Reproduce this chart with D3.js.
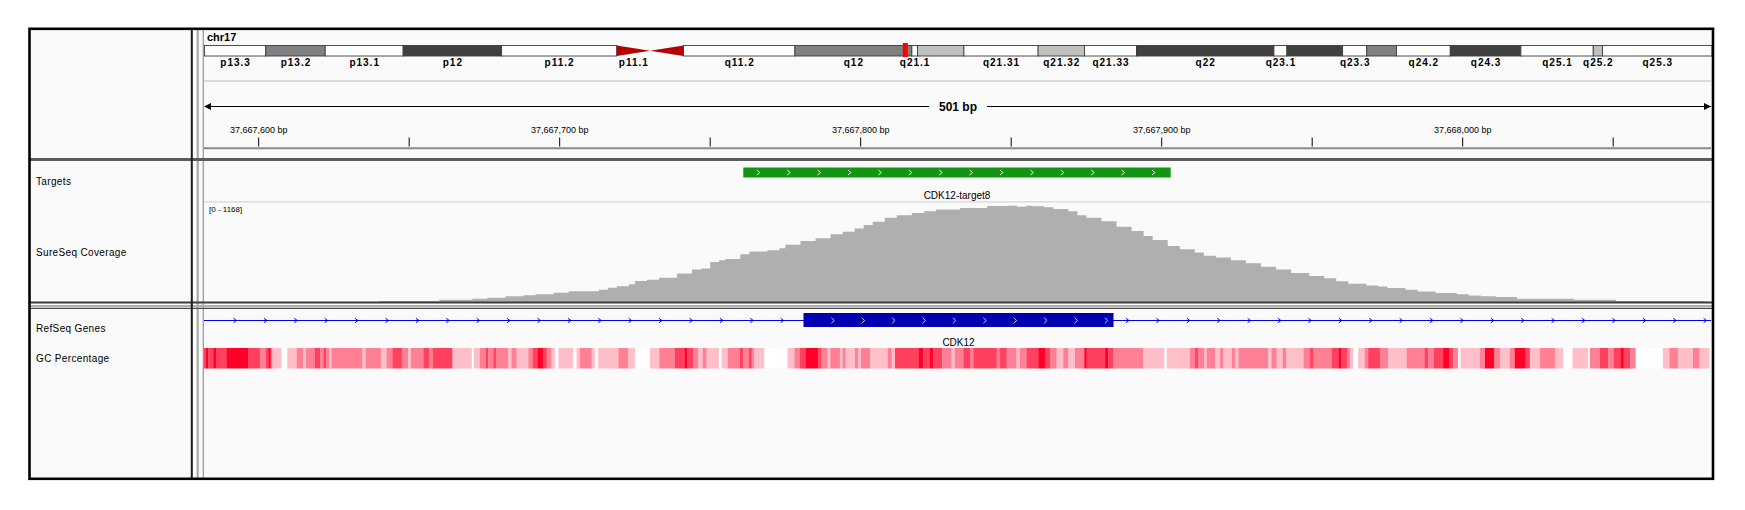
<!DOCTYPE html>
<html>
<head>
<meta charset="utf-8">
<script src="https://cdn.jsdelivr.net/npm/d3@7"></script>
<style>
  body { margin: 0; background: #fff; }
  svg text { font-family: "Liberation Sans", Arial, sans-serif; }
</style>
</head>
<body>
<svg id="chart"></svg>
<script>
// ---------- data ----------
const chromName = "chr17"
const chromLength = 81195210

const bandNames  = ["p13.3","p13.2","p13.1","p12","p11.2","p11.1","q11.1","q11.2","q12","q21.1","q21.2","q21.31","q21.32","q21.33","q22","q23.1","q23.2","q23.3","q24.1","q24.2","q24.3","q25.1","q25.2","q25.3"]
const bandStarts = [0,3300000,6500000,10700000,16000000,22200000,24000000,25800000,31800000,38100000,38400000,40900000,44900000,47400000,50200000,57600000,58300000,61300000,62600000,64200000,67100000,70900000,74800000,75300000]
const bandEnds   = [3300000,6500000,10700000,16000000,22200000,24000000,25800000,31800000,38100000,38400000,40900000,44900000,47400000,50200000,57600000,58300000,61300000,62600000,64200000,67100000,70900000,74800000,75300000,81195210]
const bandStains = ["gneg","gpos50","gneg","gpos75","gneg","acen","acen","gneg","gpos50","gneg","gpos25","gneg","gpos25","gneg","gpos75","gneg","gpos75","gneg","gpos50","gneg","gpos75","gneg","gpos25","gneg"]
const hiddenBandLabels = ["q11.1","q21.2","q23.2","q24.1"]

const viewStart = 37667581.5
const viewEnd = 37668082.5
const spanLabel = "501 bp"

const tickValues = [37667600,37667650,37667700,37667750,37667800,37667850,37667900,37667950,37668000,37668050]
const tickLabels = ["37,667,600 bp","","37,667,700 bp","","37,667,800 bp","","37,667,900 bp","","37,668,000 bp",""]

const trackNames = ["Targets","SureSeq Coverage","RefSeq Genes","GC Percentage"]

const targetNames  = ["CDK12-target8"]
const targetStarts = [37667761]
const targetEnds   = [37667903]

const geneName = "CDK12"
const exonStarts = [37667781]
const exonEnds   = [37667884]

const covMax = 1168
const covStarts = [37667640,37667660,37667671,37667676,37667682,37667688,37667692,37667698,37667703,37667713,37667716,37667719,37667723,37667725,37667729,37667733,37667739,37667744,37667747,37667750,37667753,37667755,37667760,37667763,37667769,37667773,37667775,37667780,37667785,37667790,37667794,37667798,37667801,37667804,37667808,37667812,37667817,37667821,37667825,37667833,37667842,37667849,37667852,37667855,37667857,37667861,37667864,37667869,37667872,37667875,37667880,37667885,37667890,37667894,37667897,37667902,37667906,37667911,37667914,37667918,37667923,37667928,37667933,37667938,37667943,37667949,37667954,37667958,37667962,37667968,37667972,37667975,37667981,37667985,37667991,37667998,37668002,37668006,37668011,37668018,37668037,37668051,37668080]
const covValues = [12,27,39,51,67,79,90,110,126,146,169,185,208,248,263,287,335,382,394,472,492,506,564,596,611,634,674,720,751,798,829,868,907,946,993,1024,1051,1071,1090,1109,1133,1136,1125,1136,1129,1117,1098,1071,1024,993,954,888,837,779,732,662,623,584,545,526,494,456,417,382,342,307,280,245,214,195,183,164,144,125,105,90,78,67,58,39,27,12,4]
const covEnd = 37668082

// GC windows: start offset (bp from view start) and shade level 0 (white) .. 4 (red)
const gcOffsets = [0,1.0,1.8,3.4,4.3,7.9,15.1,18.9,20.9,21.7,22.5,23.1,26.1,28.0,31.1,33.3,34.2,37.2,38.9,40.0,40.9,42.0,42.7,53.0,54.0,59.1,61.0,63.0,66.1,68.2,69.1,73.2,75.2,76.3,82.9,89.3,90.0,92.0,94.0,94.8,96.5,97.3,101.4,102.5,104.2,108.1,109.5,111.1,113.1,114.2,115.8,116.9,118.1,123.0,124.1,125.2,129.1,130.2,131.3,138.0,141.3,143.5,148.5,151.6,156.8,160.1,160.9,162.9,164.6,166.0,167.3,171.4,172.3,174.3,178.4,179.5,181.4,182.3,183.1,186.5,194.2,196.5,198.3,200.3,204.4,205.5,207.5,208.4,211.6,212.5,213.5,216.6,217.7,218.6,221.6,227.5,228.8,229.9,237.7,239.3,241.5,242.6,245.6,248.7,249.8,252.6,254.8,255.9,263.7,264.8,267.0,270.3,271.4,273.6,277.5,279.7,281.4,283.6,285.8,287.5,289.7,292.8,293.6,299.7,300.8,302.4,312.4,319.4,320.2,327.9,329.6,330.7,332.7,333.5,336.2,337.9,339.0,341.8,342.9,344.0,353.9,355.0,356.7,358.7,359.8,365.6,367.8,368.9,375.0,377.2,378.1,380.2,381.1,382.2,383.8,386.0,387.1,391.0,393.8,399.9,405.9,407.0,408.9,412.0,414.0,415.4,417.0,417.8,424.2,425.9,428.9,430.9,434.2,435.8,439.2,440.8,444.2,449.2,451.9,455.0,460.2,460.8,464.1,466.9,468.7,470.9,472.0,474.2,476.0,485.0,487.2,490.0,495.0,497.2]
const gcLevels  = [3,4,3,4,3,4,3,2,3,4,2,1,0,1,2,1,2,3,2,3,2,1,2,1,2,1,2,3,2,1,2,3,2,3,1,0,1,2,3,2,3,2,1,2,1,2,3,4,3,2,1,0,1,0,1,2,1,0,1,2,1,0,1,2,3,4,3,2,1,2,1,0,1,2,3,2,3,2,1,0,1,2,3,4,3,2,1,2,1,2,1,2,1,2,1,2,1,3,4,3,4,3,2,1,2,3,2,3,2,3,2,1,2,3,4,3,2,1,2,1,2,4,3,4,3,2,1,0,1,2,3,2,1,2,1,2,1,2,1,2,1,2,1,2,1,2,3,2,3,4,3,2,1,0,1,2,3,2,1,2,3,2,3,4,3,2,0,1,2,4,2,1,2,4,3,1,2,1,0,1,0,2,3,2,3,4,3,2,0,1,2,1,2,1]
const gcEndOffset = 500.4

// ---------- layout ----------
const W = 1745, H = 510
const frameL = 29.5, frameT = 28.8, frameR = 1713, frameB = 478.8
const nameRight = 191.8
const dataLeft = 203, dataRight = 1711
const font = '"Liberation Sans", Arial, sans-serif'

const svg = d3.select("#chart").attr("width", W).attr("height", H)
svg.append("rect").attr("width", W).attr("height", H).attr("fill", "#ffffff")
svg.append("rect")
    .attr("x", frameL).attr("y", frameT)
    .attr("width", frameR - frameL).attr("height", frameB - frameT)
    .attr("fill", "#fafafa")

const x = d3.scaleLinear().domain([viewStart, viewEnd]).range([dataLeft, dataRight])

// ---------- ideogram ----------
const ideo = d3.scaleLinear().domain([0, chromLength]).range([204.5, 1712])
const ideoTop = 45.5, ideoH = 10.5, ideoMid = ideoTop + ideoH / 2
const stainColor = {gneg: "#ffffff", gpos25: "#c0c0c0", gpos50: "#808080", gpos75: "#404040", gpos100: "#000000", acen: "#b40000"}

const bands = bandNames.map((n, i) => ({name: n, start: bandStarts[i], end: bandEnds[i], stain: bandStains[i]}))

svg.append("text")
    .attr("x", 207).attr("y", 40.5)
    .attr("font-size", 11).attr("font-weight", "bold")
    .text(chromName)

const ideoG = svg.append("g")
ideoG.selectAll("rect")
    .data(bands.filter(b => b.stain !== "acen"))
    .join("rect")
    .attr("x", d => ideo(d.start))
    .attr("y", ideoTop)
    .attr("width", d => ideo(d.end) - ideo(d.start))
    .attr("height", ideoH)
    .attr("fill", d => stainColor[d.stain])
    .attr("stroke", "#3c3c3c")
    .attr("stroke-width", 0.9)

ideoG.selectAll("path")
    .data(bands.filter(b => b.stain === "acen"))
    .join("path")
    .attr("d", d => {
        const a = ideo(d.start), b = ideo(d.end)
        if (d.name[0] === "p") return `M${a},${ideoTop} L${b},${ideoMid} L${a},${ideoTop + ideoH} Z`
        return `M${a},${ideoMid} L${b},${ideoTop} L${b},${ideoTop + ideoH} Z`
    })
    .attr("fill", stainColor.acen)

// current view marker
ideoG.append("rect")
    .attr("x", ideo(viewStart) - 1)
    .attr("y", 43)
    .attr("width", Math.max(ideo(viewEnd) - ideo(viewStart), 5))
    .attr("height", 14)
    .attr("fill", "#ff0000")

ideoG.selectAll("text")
    .data(bands.filter(b => !hiddenBandLabels.includes(b.name)))
    .join("text")
    .attr("x", d => (ideo(d.start) + ideo(d.end)) / 2 + 0.5)
    .attr("y", 65.5)
    .attr("text-anchor", "middle")
    .attr("font-size", 10)
    .attr("font-weight", "bold")
    .attr("letter-spacing", "1px")
    .text(d => d.name)

svg.append("line")
    .attr("x1", dataLeft).attr("x2", dataRight)
    .attr("y1", 81).attr("y2", 81)
    .attr("stroke", "#d2d2d2").attr("stroke-width", 1.5)

// ---------- ruler ----------
const rulerY = 106.5
const midX = (dataLeft + dataRight) / 2
svg.append("line")
    .attr("x1", dataLeft + 2).attr("x2", midX - 28)
    .attr("y1", rulerY).attr("y2", rulerY)
    .attr("stroke", "#000")
svg.append("line")
    .attr("x1", midX + 30).attr("x2", dataRight)
    .attr("y1", rulerY).attr("y2", rulerY)
    .attr("stroke", "#000")
svg.append("path")
    .attr("d", `M${dataLeft + 1},${rulerY} L${dataLeft + 8},${rulerY - 3.5} L${dataLeft + 8},${rulerY + 3.5} Z`)
svg.append("path")
    .attr("d", `M${dataRight},${rulerY} L${dataRight - 7},${rulerY - 3.5} L${dataRight - 7},${rulerY + 3.5} Z`)
svg.append("text")
    .attr("x", midX + 1).attr("y", 111.3)
    .attr("text-anchor", "middle")
    .attr("font-size", 12).attr("font-weight", "bold")
    .text(spanLabel)

const tickG = svg.append("g")
tickG.selectAll("line")
    .data(tickValues)
    .join("line")
    .attr("x1", d => x(d)).attr("x2", d => x(d))
    .attr("y1", 137.5).attr("y2", 146.5)
    .attr("stroke", "#000")
tickG.selectAll("text")
    .data(tickValues.map((v, i) => ({v: v, label: tickLabels[i]})).filter(d => d.label))
    .join("text")
    .attr("x", d => x(d.v))
    .attr("y", 132.5)
    .attr("text-anchor", "middle")
    .attr("font-size", 9)
    .text(d => d.label)

svg.append("line")
    .attr("x1", dataLeft).attr("x2", dataRight)
    .attr("y1", 148.3).attr("y2", 148.3)
    .attr("stroke", "#8a8a8a").attr("stroke-width", 2)

// ---------- chevron helper ----------
function chevrons(g, from, to, first, step, y, h, color, width) {
    const xs = []
    for (let v = from + first; v < to; v += step) xs.push(v)
    g.selectAll(null)
        .data(xs)
        .join("path")
        .attr("d", d => `M${d - 1.5},${y - h} L${d + 1.5},${y} L${d - 1.5},${y + h}`)
        .attr("fill", "none")
        .attr("stroke", color)
        .attr("stroke-width", width)
}

// ---------- targets ----------
const targets = targetNames.map((n, i) => ({name: n, start: targetStarts[i], end: targetEnds[i]}))
const targetG = svg.append("g")
targetG.selectAll("rect")
    .data(targets)
    .join("rect")
    .attr("x", d => x(d.start))
    .attr("y", 167.5)
    .attr("width", d => x(d.end) - x(d.start))
    .attr("height", 10)
    .attr("fill", "#129612")
targets.forEach(t => chevrons(targetG, x(t.start), x(t.end) - 8, 15, 30.4, 172.5, 2.5, "#e6f5e6", 1))
targetG.selectAll("text")
    .data(targets)
    .join("text")
    .attr("x", d => (x(d.start) + x(d.end)) / 2)
    .attr("y", 198.5)
    .attr("text-anchor", "middle")
    .attr("font-size", 10)
    .text(d => d.name)

svg.append("line")
    .attr("x1", dataLeft).attr("x2", dataRight)
    .attr("y1", 201.8).attr("y2", 201.8)
    .attr("stroke", "#d6d6d6").attr("stroke-width", 1.3)

// ---------- coverage ----------
const covY = d3.scaleLinear().domain([0, covMax]).range([302, 203])
const covPts = covStarts.map((s, i) => ({pos: s, v: covValues[i]})).concat([{pos: covEnd, v: 0}])
svg.append("path")
    .datum(covPts)
    .attr("fill", "#afafaf")
    .attr("d", d3.area()
        .x(d => x(d.pos))
        .y0(covY(0))
        .y1(d => covY(d.v))
        .curve(d3.curveStepAfter))
svg.append("text")
    .attr("x", 209).attr("y", 212)
    .attr("font-size", 8)
    .text(`[0 - ${covMax}]`)

// ---------- RefSeq gene ----------
const geneY = 320.5
const geneG = svg.append("g")
geneG.append("line")
    .attr("x1", dataLeft + 1).attr("x2", dataRight)
    .attr("y1", geneY).attr("y2", geneY)
    .attr("stroke", "#0000ee").attr("stroke-width", 1.2)
const exons = exonStarts.map((s, i) => ({start: s, end: exonEnds[i]}))
chevrons(geneG, dataLeft, x(exons[0].start) - 8, 32, 30.4, geneY, 2.2, "#0000ee", 1)
chevrons(geneG, x(exons[exons.length - 1].end), dataRight - 2, 14, 30.4, geneY, 2.2, "#0000ee", 1)
geneG.selectAll("rect")
    .data(exons)
    .join("rect")
    .attr("x", d => x(d.start))
    .attr("y", 313)
    .attr("width", d => x(d.end) - x(d.start))
    .attr("height", 14)
    .attr("fill", "#0000b2")
exons.forEach(e => chevrons(geneG, x(e.start), x(e.end) - 2, 29.3, 30.4, geneY, 2.8, "#c8c8ff", 1))
geneG.append("text")
    .attr("x", (x(exons[0].start) + x(exons[exons.length - 1].end)) / 2)
    .attr("y", 345.5)
    .attr("text-anchor", "middle")
    .attr("font-size", 10)
    .text(geneName)

// ---------- GC percentage ----------
const gcColor = d3.scaleLinear().domain([0, 4]).range(["#ffffff", "#ff0028"])
const gcData = gcOffsets.map((o, i) => ({
    start: viewStart + o,
    end: viewStart + (i + 1 < gcOffsets.length ? gcOffsets[i + 1] : gcEndOffset),
    level: gcLevels[i]
}))
svg.append("g").selectAll("rect")
    .data(gcData)
    .join("rect")
    .attr("x", d => x(d.start))
    .attr("y", 348)
    .attr("width", d => x(d.end) - x(d.start) + 0.2)
    .attr("height", 20.5)
    .attr("fill", d => gcColor(d.level))

// ---------- track names ----------
const nameY = [185.3, 255.8, 331.8, 362.3]
svg.append("g").selectAll("text")
    .data(trackNames)
    .join("text")
    .attr("x", 36)
    .attr("y", (d, i) => nameY[i])
    .attr("font-size", 10)
    .attr("letter-spacing", "0.35px")
    .text(d => d)

// ---------- panel borders ----------
const lines = svg.append("g")
function hline(y, x1, x2, color, w) {
    lines.append("line").attr("x1", x1).attr("x2", x2).attr("y1", y).attr("y2", y)
        .attr("stroke", color).attr("stroke-width", w)
}
function vline(xp, y1, y2, color, w) {
    lines.append("line").attr("x1", xp).attr("x2", xp).attr("y1", y1).attr("y2", y2)
        .attr("stroke", color).attr("stroke-width", w)
}
vline(197.7, frameT, frameB, "#a4a4a4", 2)
vline(203.3, frameT, frameB, "#9c9c9c", 1.3)
hline(159.6, frameL, frameR, "#5c5c5c", 3)
hline(302.6, frameL, frameR, "#3c3c3c", 2)
hline(306, frameL, frameR, "#b0b0b0", 2)
hline(308.4, frameL, frameR, "#4a4a4a", 1.4)
vline(nameRight, frameT, frameB, "#1a1a1a", 2)

svg.append("rect")
    .attr("x", frameL).attr("y", frameT)
    .attr("width", frameR - frameL).attr("height", frameB - frameT)
    .attr("fill", "none")
    .attr("stroke", "#000")
    .attr("stroke-width", 2.6)
</script>
</body>
</html>
